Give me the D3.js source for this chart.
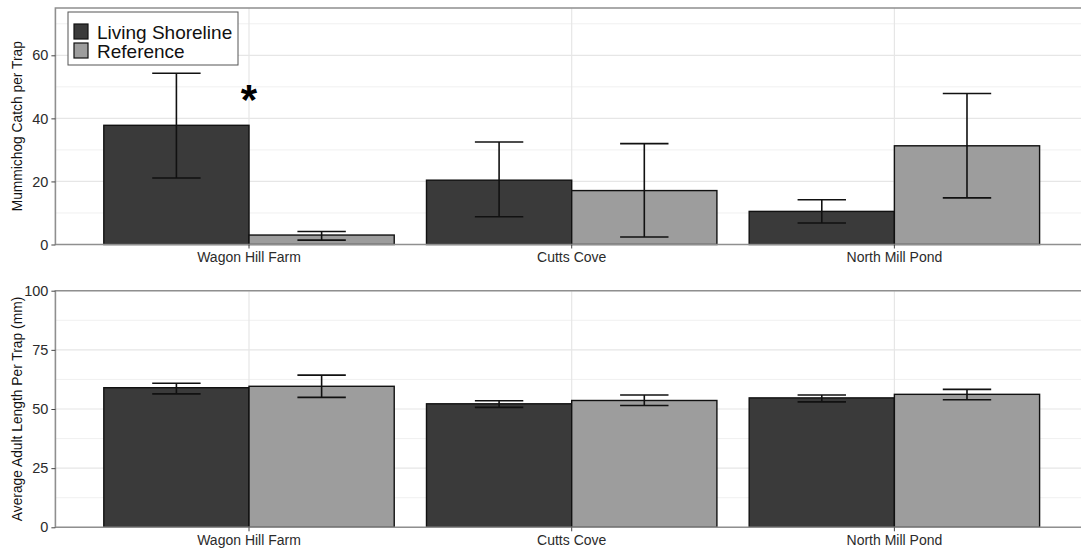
<!DOCTYPE html>
<html>
<head>
<meta charset="utf-8">
<script src="https://cdn.jsdelivr.net/npm/d3@7"></script>
<style>
  body { margin: 0; background: #fff; }
  svg { display: block; font-family: "Liberation Sans", Arial, sans-serif; }
  .tick text { fill: #2b2b2b; }
</style>
</head>
<body>
<div id="chart"></div>
<script>
// sites and groups
var sites = ["Wagon Hill Farm", "Cutts Cove", "North Mill Pond"];
var groups = ["Living Shoreline", "Reference"];

// mummichog catch per trap (mean, lower, upper)
var catchLiving = [37.8, 20.4, 10.5];
var catchLivingLo = [21.1, 8.8, 6.8];
var catchLivingHi = [54.3, 32.5, 14.2];
var catchRef = [3.0, 17.1, 31.3];
var catchRefLo = [1.4, 2.4, 14.8];
var catchRefHi = [4.1, 32.0, 47.9];

// average adult length per trap (mean, lower, upper)
var lengthLiving = [59.0, 52.2, 54.7];
var lengthLivingLo = [56.4, 50.7, 53.0];
var lengthLivingHi = [60.9, 53.5, 55.9];
var lengthRef = [59.6, 53.6, 56.2];
var lengthRefLo = [54.9, 51.5, 53.9];
var lengthRefHi = [64.3, 55.9, 58.3];

var catchTicks = [0, 20, 40, 60];
var catchMinor = [10, 30, 50, 70];
var lengthTicks = [0, 25, 50, 75, 100];
var lengthMinor = [12.5, 37.5, 62.5, 87.5];

var width = 1081;
var height = 548;
var left = 55.4;
var right = 1088;

var colors = { "Living Shoreline": "#3a3a3a", "Reference": "#9d9d9d" };

var svg = d3.select("#chart")
  .append("svg")
  .attr("width", width)
  .attr("height", height);

// build rows for a panel
function makeRows(mean, lo, hi, mean2, lo2, hi2) {
  var rows = [];
  sites.forEach(function(s, i) {
    rows.push({ site: s, group: groups[0], v: mean[i], lo: lo[i], hi: hi[i] });
    rows.push({ site: s, group: groups[1], v: mean2[i], lo: lo2[i], hi: hi2[i] });
  });
  return rows;
}

var xScale = d3.scaleBand()
  .domain(sites)
  .range([left, right])
  .paddingInner(0.1)
  .paddingOuter(0.15);

var xInner = d3.scaleBand()
  .domain(groups)
  .range([0, xScale.bandwidth()]);

function drawPanel(opts) {
  var yScale = d3.scaleLinear()
    .domain(opts.domain)
    .range([opts.bottom, opts.top]);

  var g = svg.append("g");

  // minor grid
  g.selectAll(".minor")
    .data(opts.minor)
    .enter()
    .append("line")
    .attr("x1", left).attr("x2", width)
    .attr("y1", function(d) { return yScale(d); })
    .attr("y2", function(d) { return yScale(d); })
    .attr("stroke", "#f0f0f0")
    .attr("stroke-width", 1);

  // major grid
  g.selectAll(".major")
    .data(opts.ticks)
    .enter()
    .append("line")
    .attr("x1", left).attr("x2", width)
    .attr("y1", function(d) { return yScale(d); })
    .attr("y2", function(d) { return yScale(d); })
    .attr("stroke", "#e6e6e6")
    .attr("stroke-width", 1.2);

  g.selectAll(".vgrid")
    .data(sites)
    .enter()
    .append("line")
    .attr("x1", function(d) { return xScale(d) + xScale.bandwidth() / 2; })
    .attr("x2", function(d) { return xScale(d) + xScale.bandwidth() / 2; })
    .attr("y1", opts.top).attr("y2", opts.bottom)
    .attr("stroke", "#e6e6e6")
    .attr("stroke-width", 1.2);

  var rows = opts.rows;

  // bars
  g.selectAll(".bar")
    .data(rows)
    .enter()
    .append("rect")
    .attr("x", function(d) { return xScale(d.site) + xInner(d.group); })
    .attr("y", function(d) { return yScale(d.v); })
    .attr("width", xInner.bandwidth())
    .attr("height", function(d) { return yScale(0) - yScale(d.v); })
    .attr("fill", function(d) { return colors[d.group]; })
    .attr("stroke", "#111")
    .attr("stroke-width", 1.4);

  // error bars
  var capW = xInner.bandwidth() / 3;
  var eb = g.selectAll(".err")
    .data(rows)
    .enter()
    .append("g")
    .attr("transform", function(d) {
      return "translate(" + (xScale(d.site) + xInner(d.group) + xInner.bandwidth() / 2) + ",0)";
    });
  eb.append("line")
    .attr("x1", 0).attr("x2", 0)
    .attr("y1", function(d) { return yScale(d.lo); })
    .attr("y2", function(d) { return yScale(d.hi); });
  eb.append("line")
    .attr("x1", -capW / 2).attr("x2", capW / 2)
    .attr("y1", function(d) { return yScale(d.hi); })
    .attr("y2", function(d) { return yScale(d.hi); });
  eb.append("line")
    .attr("x1", -capW / 2).attr("x2", capW / 2)
    .attr("y1", function(d) { return yScale(d.lo); })
    .attr("y2", function(d) { return yScale(d.lo); });
  eb.selectAll("line").attr("stroke", "#111").attr("stroke-width", 1.6);

  // panel border (top, left, bottom)
  g.append("path")
    .attr("d", "M" + width + "," + opts.top + "H" + left + "V" + opts.bottom + "H" + width)
    .attr("fill", "none")
    .attr("stroke", "#8f8f8f")
    .attr("stroke-width", 1.6);

  // axes
  var yAxis = d3.axisLeft(yScale).tickValues(opts.ticks).tickSize(4).tickPadding(3);
  var ya = g.append("g")
    .attr("transform", "translate(" + left + ",0)")
    .call(yAxis);
  ya.select(".domain").remove();
  ya.selectAll(".tick line").attr("stroke", "#444");
  ya.selectAll(".tick text").attr("font-size", 14.5);

  var xAxis = d3.axisBottom(xScale).tickSize(4).tickPadding(4);
  var xa = g.append("g")
    .attr("transform", "translate(0," + opts.bottom + ")")
    .call(xAxis);
  xa.select(".domain").remove();
  xa.selectAll(".tick line").attr("stroke", "#444");
  xa.selectAll(".tick text").attr("font-size", 14);

  // y title
  g.append("text")
    .attr("transform", "translate(22," + ((opts.top + opts.bottom) / 2) + ")rotate(-90)")
    .attr("text-anchor", "middle")
    .attr("font-size", 13.8)
    .attr("fill", "#111")
    .text(opts.title);

  return yScale;
}

var yCatch = drawPanel({
  domain: [0, 75], top: 8, bottom: 244.5,
  ticks: catchTicks, minor: catchMinor,
  rows: makeRows(catchLiving, catchLivingLo, catchLivingHi, catchRef, catchRefLo, catchRefHi),
  title: "Mummichog Catch per Trap"
});

drawPanel({
  domain: [0, 100], top: 290.7, bottom: 527.3,
  ticks: lengthTicks, minor: lengthMinor,
  rows: makeRows(lengthLiving, lengthLivingLo, lengthLivingHi, lengthRef, lengthRefLo, lengthRefHi),
  title: "Average Adult Length Per Trap (mm)"
});

// significance marker
svg.append("text")
  .attr("x", xScale(sites[0]) + xScale.bandwidth() / 2)
  .attr("y", yCatch(41.3))
  .attr("text-anchor", "middle")
  .attr("font-size", 42)
  .attr("font-weight", "bold")
  .attr("fill", "#000")
  .text("*");

// legend
var legend = svg.append("g").attr("transform", "translate(68,12)");
legend.append("rect")
  .attr("width", 170).attr("height", 53)
  .attr("fill", "#fff")
  .attr("stroke", "#555")
  .attr("stroke-width", 1);
groups.forEach(function(gname, i) {
  legend.append("rect")
    .attr("x", 6).attr("y", 12 + i * 19)
    .attr("width", 14).attr("height", 15)
    .attr("fill", colors[gname])
    .attr("stroke", "#111")
    .attr("stroke-width", 1.2);
  legend.append("text")
    .attr("x", 29).attr("y", 27 + i * 19)
    .attr("font-size", 19)
    .attr("fill", "#111")
    .text(gname);
});
</script>
</body>
</html>
